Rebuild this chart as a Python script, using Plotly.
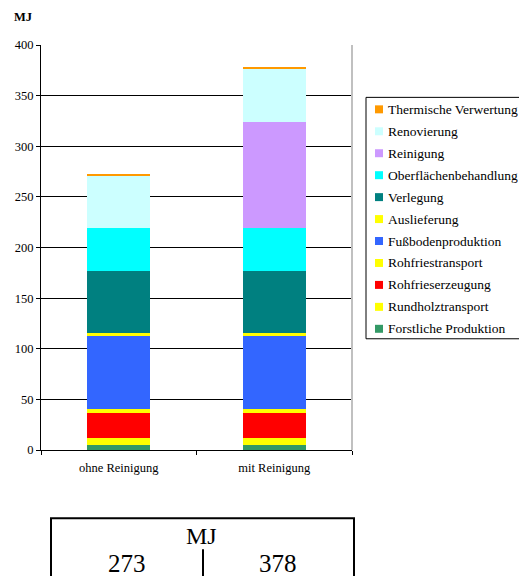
import plotly.graph_objects as go

# Energy demand (MJ) per life-cycle stage, stacked bottom to top
categories = ["ohne Reinigung", "mit Reinigung"]

stages = [
    "Forstliche Produktion",
    "Rundholztransport",
    "Rohfrieserzeugung",
    "Rohfriestransport",
    "Fußbodenproduktion",
    "Auslieferung",
    "Verlegung",
    "Oberflächenbehandlung",
    "Reinigung",
    "Renovierung",
    "Thermische Verwertung",
]

forstliche_produktion = [4.5, 4.5]
rundholztransport = [7.5, 7.5]
rohfrieserzeugung = [24.5, 24.5]
rohfriestransport = [4, 4]
fussbodenproduktion = [72, 72]
auslieferung = [3, 3]
verlegung = [61, 61]
oberflaechenbehandlung = [42.5, 42.5]
reinigung = [0, 105]
renovierung = [52, 52]
thermische_verwertung = [2, 2]

stage_values = [
    forstliche_produktion,
    rundholztransport,
    rohfrieserzeugung,
    rohfriestransport,
    fussbodenproduktion,
    auslieferung,
    verlegung,
    oberflaechenbehandlung,
    reinigung,
    renovierung,
    thermische_verwertung,
]

stage_colors = [
    "#339966", "#FFFF00", "#FF0000", "#FFFF00", "#3366FF", "#FFFF00",
    "#008080", "#00FFFF", "#CC99FF", "#CCFFFF", "#FF9900",
]

y_ticks = [0, 50, 100, 150, 200, 250, 300, 350, 400]

FONT = "Liberation Serif, Times New Roman, serif"

# Figure / plot-area geometry in pixels
W, H = 519, 576
PL, PR, PT, PB = 41, 352, 44.5, 450.5


def px_x(p):
    return (p - PL) / (PR - PL)


def px_y(p):
    return (PB - p) / (PB - PT)


fig = go.Figure()
for name, vals, col in zip(stages, stage_values, stage_colors):
    fig.add_trace(go.Bar(
        x=categories, y=vals, name=name, marker=dict(color=col, line=dict(width=0)),
        width=0.405, showlegend=False,
    ))

shapes = []
annotations = []

# Right border of the plot area
shapes.append(dict(type="line", xref="paper", yref="paper",
                   x0=1, x1=1, y0=0, y1=1,
                   line=dict(color="#c0c0c0", width=2)))

# Legend box (top entry = top of stack)
leg_left, leg_top, leg_bottom = 366, 97, 339
shapes.append(dict(type="rect", xref="paper", yref="paper",
                   x0=px_x(leg_left), x1=px_x(540), y0=px_y(leg_bottom), y1=px_y(leg_top),
                   line=dict(color="black", width=1), fillcolor="white"))
for i, (name, col) in enumerate(zip(stages[::-1], stage_colors[::-1])):
    cy = 109 + 22 * i
    shapes.append(dict(type="rect", xref="paper", yref="paper",
                       x0=px_x(375), x1=px_x(383), y0=px_y(cy + 4), y1=px_y(cy - 4),
                       line=dict(width=0), fillcolor=col))
    annotations.append(dict(xref="paper", yref="paper", x=px_x(386), y=px_y(cy),
                            text=name, showarrow=False, xanchor="left", yanchor="middle",
                            font=dict(family=FONT, size=13.5, color="black")))

# Unit label above the value axis
annotations.append(dict(xref="paper", yref="paper", x=px_x(12), y=px_y(25),
                        text="<b>MJ</b>", showarrow=False, xanchor="left", yanchor="bottom",
                        font=dict(family=FONT, size=12.5, color="black")))

# Totals table below the chart
totals = [sum(v[k] for v in stage_values) for k in range(len(categories))]
shapes.append(dict(type="rect", xref="paper", yref="paper",
                   x0=px_x(51), x1=px_x(354), y0=px_y(600), y1=px_y(519),
                   line=dict(color="black", width=2)))
shapes.append(dict(type="line", xref="paper", yref="paper",
                   x0=px_x(203), x1=px_x(203), y0=px_y(600), y1=px_y(550),
                   line=dict(color="black", width=2)))
annotations.append(dict(xref="paper", yref="paper", x=px_x(201), y=px_y(537),
                        text="MJ", showarrow=False, xanchor="center", yanchor="middle",
                        font=dict(family=FONT, size=24, color="black")))
for cx, t in zip([127, 277.5], totals):
    annotations.append(dict(xref="paper", yref="paper", x=px_x(cx), y=px_y(564),
                            text=f"{t:.0f}", showarrow=False, xanchor="center", yanchor="middle",
                            font=dict(family=FONT, size=25, color="black")))

fig.update_layout(
    width=W, height=H,
    margin=dict(l=PL, r=W - PR, t=PT, b=H - PB, pad=0),
    barmode="stack",
    bargap=0,
    plot_bgcolor="white",
    paper_bgcolor="white",
    font=dict(family=FONT, size=12, color="black"),
    shapes=shapes,
    annotations=annotations,
    xaxis=dict(
        type="category",
        showline=True, linecolor="black", linewidth=1,
        ticks="outside", tickson="boundaries", ticklen=4, tickcolor="black", tickwidth=1,
        showgrid=False,
        ticklabelstandoff=6,
        tickfont=dict(family=FONT, size=12.5, color="black"),
    ),
    yaxis=dict(
        range=[0, 400],
        tickvals=y_ticks,
        showline=True, linecolor="black", linewidth=1,
        ticks="outside", ticklen=4, tickcolor="black", tickwidth=1,
        showgrid=True, gridcolor="black", gridwidth=1,
        zeroline=False,
        tickfont=dict(family=FONT, size=12.5, color="black"),
    ),
)

fig.write_html("out.html")
